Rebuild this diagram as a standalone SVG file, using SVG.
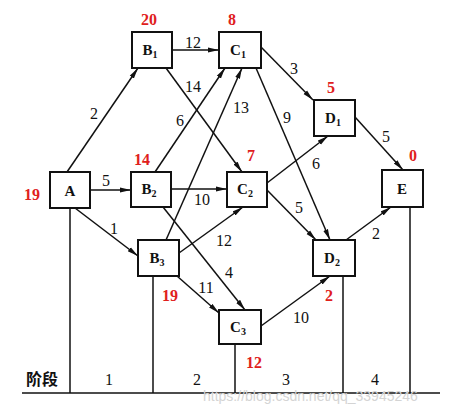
<svg xmlns="http://www.w3.org/2000/svg" width="456" height="416" viewBox="0 0 456 416">
<style>
.box{fill:#fff;stroke:#111;stroke-width:2}
.nl{font-family:'Liberation Serif','DejaVu Serif','Times New Roman',serif;font-weight:bold;font-size:15px;fill:#111;text-anchor:middle}
.sub{font-size:10px}
.e{stroke:#111;stroke-width:1.5;fill:none;marker-end:url(#ah)}
.el{font-family:'Liberation Serif','DejaVu Serif','Times New Roman',serif;font-size:16px;fill:#111;text-anchor:middle}
.r{font-family:'Liberation Serif','DejaVu Serif','Times New Roman',serif;font-weight:bold;font-size:16px;fill:#e0201c;text-anchor:middle}
.ln{stroke:#111;stroke-width:1.5;fill:none}
.wm{font-family:'Liberation Sans',sans-serif;font-size:14px;fill:#d4d4d4}
</style>
<defs>
<marker id="ah" markerUnits="userSpaceOnUse" markerWidth="12" markerHeight="8" refX="11" refY="3" orient="auto">
<path d="M0,0.5 L11,3 L0,5.5 Z" fill="#111"/>
</marker>
</defs>
<rect width="456" height="416" fill="#fff"/>
<g id="stages">
<line class="ln" x1="22" y1="393" x2="440" y2="393"/>
<line class="ln" x1="70" y1="208" x2="70" y2="393"/>
<line class="ln" x1="153" y1="276" x2="153" y2="393"/>
<line class="ln" x1="235" y1="344" x2="235" y2="393"/>
<line class="ln" x1="343" y1="276" x2="343" y2="393"/>
<line class="ln" x1="410" y1="207" x2="410" y2="393"/>
<text x="42" y="385" font-family="'Liberation Serif','Noto Sans CJK SC',serif" font-size="16" font-weight="bold" fill="#111" text-anchor="middle">阶段</text>
<text class="el" x="109" y="385" font-family="Liberation Serif">1</text>
<text class="el" x="197" y="385" font-family="Liberation Serif">2</text>
<text class="el" x="286" y="385" font-family="Liberation Serif">3</text>
<text class="el" x="375" y="385" font-family="Liberation Serif">4</text>
</g>
<g id="connectors">
<line class="e" x1="67" y1="172" x2="138" y2="68"/>
<line class="e" x1="90" y1="190" x2="131" y2="190"/>
<line class="e" x1="75" y1="208" x2="138" y2="256"/>
<line class="e" x1="172" y1="50" x2="219" y2="50"/>
<line class="e" x1="166" y1="68" x2="242" y2="172"/>
<line class="e" x1="155" y1="172" x2="225" y2="68"/>
<line class="e" x1="171" y1="189" x2="227" y2="189"/>
<line class="e" x1="163" y1="207" x2="245" y2="310"/>
<line class="e" x1="166" y1="240" x2="242" y2="68"/>
<line class="e" x1="179" y1="253" x2="243" y2="207"/>
<line class="e" x1="177" y1="276" x2="219" y2="313"/>
<line class="e" x1="261" y1="47" x2="313" y2="100"/>
<line class="e" x1="256" y1="68" x2="330" y2="240"/>
<line class="e" x1="267" y1="183" x2="328" y2="136"/>
<line class="e" x1="267" y1="190" x2="316" y2="240"/>
<line class="e" x1="261" y1="326" x2="330" y2="276"/>
<line class="e" x1="355" y1="117" x2="403" y2="170"/>
<line class="e" x1="346" y1="240" x2="391" y2="207"/>
<g font-family="Liberation Serif">
<text class="el" x="94" y="119">2</text>
<text class="el" x="106" y="186">5</text>
<text class="el" x="114" y="234">1</text>
<text class="el" x="193" y="48">12</text>
<text class="el" x="193" y="92">14</text>
<text class="el" x="180" y="126">6</text>
<text class="el" x="202" y="205">10</text>
<text class="el" x="241" y="113">13</text>
<text class="el" x="287" y="123">9</text>
<text class="el" x="294" y="74">3</text>
<text class="el" x="386" y="142">5</text>
<text class="el" x="316" y="169">6</text>
<text class="el" x="299" y="213">5</text>
<text class="el" x="224" y="246">12</text>
<text class="el" x="229" y="278">4</text>
<text class="el" x="206" y="293">11</text>
<text class="el" x="301" y="323">10</text>
<text class="el" x="376" y="239">2</text>
</g>
</g>
<g id="A"><rect class="box" x="50" y="172" width="40" height="36"/><text class="nl" x="70" y="196">A</text><text class="r" x="32" y="200">19</text></g>
<g id="B1"><rect class="box" x="132" y="32" width="40" height="36"/><text class="nl" x="150" y="55">B<tspan class="sub" dy="3">1</tspan></text><text class="r" x="149" y="25">20</text></g>
<g id="B2"><rect class="box" x="131" y="172" width="40" height="35"/><text class="nl" x="149" y="194">B<tspan class="sub" dy="3">2</tspan></text><text class="r" x="142" y="165">14</text></g>
<g id="B3"><rect class="box" x="138" y="240" width="41" height="36"/><text class="nl" x="157" y="263">B<tspan class="sub" dy="3">3</tspan></text><text class="r" x="170" y="301">19</text></g>
<g id="C1"><rect class="box" x="219" y="32" width="42" height="36"/><text class="nl" x="238" y="55">C<tspan class="sub" dy="3">1</tspan></text><text class="r" x="232" y="25">8</text></g>
<g id="C2"><rect class="box" x="227" y="172" width="40" height="35"/><text class="nl" x="245" y="194">C<tspan class="sub" dy="3">2</tspan></text><text class="r" x="251" y="161">7</text></g>
<g id="C3"><rect class="box" x="219" y="310" width="42" height="34"/><text class="nl" x="238" y="332">C<tspan class="sub" dy="3">3</tspan></text><text class="r" x="254" y="368">12</text></g>
<g id="D1"><rect class="box" x="314" y="100" width="41" height="36"/><text class="nl" x="333" y="123">D<tspan class="sub" dy="3">1</tspan></text><text class="r" x="331" y="93">5</text></g>
<g id="D2"><rect class="box" x="313" y="240" width="42" height="36"/><text class="nl" x="332" y="263">D<tspan class="sub" dy="3">2</tspan></text><text class="r" x="329" y="301">2</text></g>
<g id="E"><rect class="box" x="382" y="170" width="41" height="37"/><text class="nl" x="402" y="194">E</text><text class="r" x="413" y="161">0</text></g>
<text class="wm" x="203" y="401">https://blog.csdn.net/qq_33945246</text>
</svg>
